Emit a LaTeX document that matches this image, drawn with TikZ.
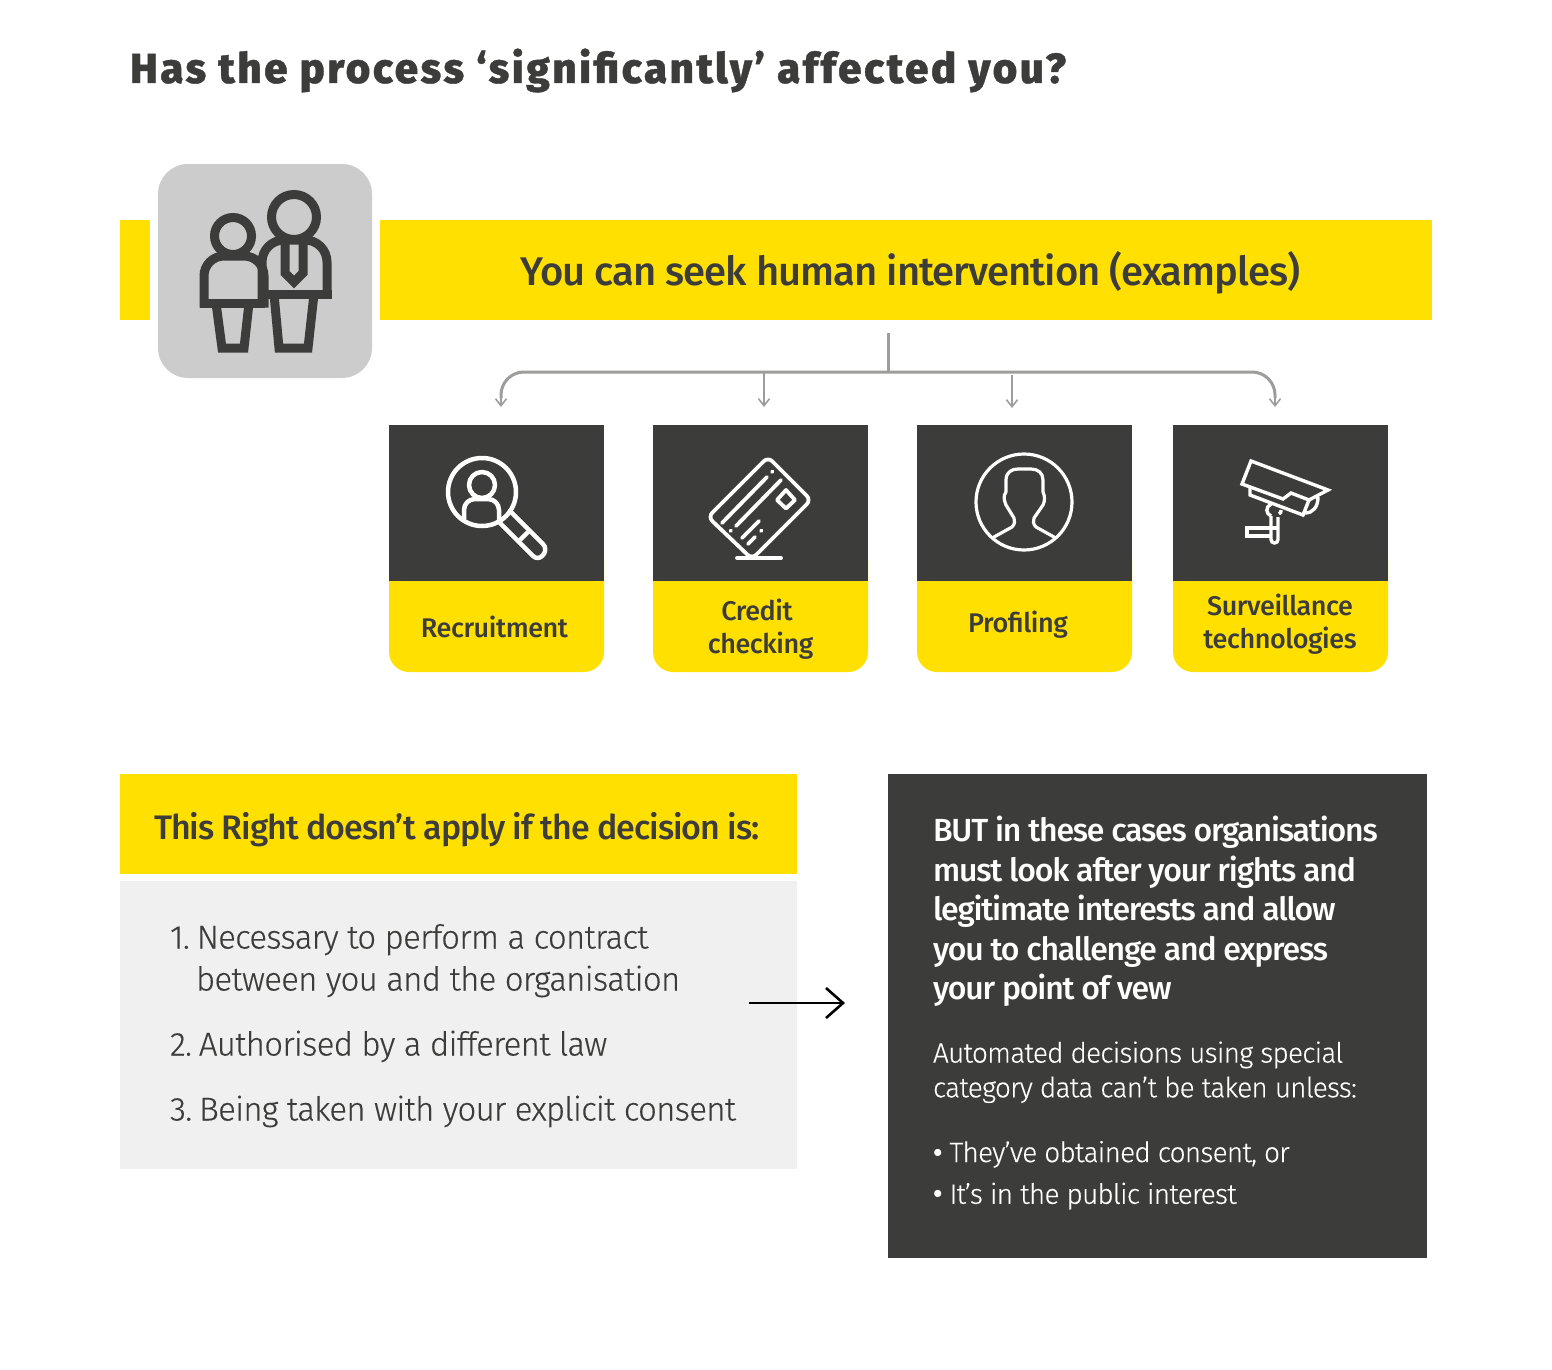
\documentclass[tikz,border=0pt]{standalone}
\usepackage{fontspec}
\setmainfont{Fira Sans}
\newfontfamily\fsmed[LetterSpace=-2.4]{Fira Sans Medium}
\newfontfamily\fscard[LetterSpace=-1.6]{Fira Sans Medium}
\newfontfamily\fscond[LetterSpace=-3.0]{Fira Sans Medium}
\newfontfamily\fsbut[LetterSpace=-3.7]{Fira Sans Medium}
\newfontfamily\fsheavy[LetterSpace=6.2,FakeBold=0.9]{Fira Sans ExtraBold}
\newfontfamily\fsbody[LetterSpace=-2.2,FakeBold=0.25]{Fira Sans Light}
\newfontfamily\fsnote[LetterSpace=-2.8,FakeBold=0.25]{Fira Sans Light}
\usetikzlibrary{arrows.meta}
\definecolor{ink}{HTML}{3C3C3B}
\definecolor{sun}{HTML}{FFE000}
\definecolor{tile}{HTML}{CCCCCC}
\definecolor{pale}{HTML}{F0F0F0}
\definecolor{wire}{HTML}{9D9D9C}
\tikzset{
 x=1pt,y=-1pt,
 txt/.style={inner sep=0pt,outer sep=0pt,anchor=north west,align=left,text=ink},
 one/.style={inner sep=0pt,outer sep=0pt,anchor=base west,text=ink},
 ctr/.style={inner sep=0pt,outer sep=0pt,anchor=north,align=center,text=ink},
 onectr/.style={inner sep=0pt,outer sep=0pt,anchor=base,text=ink},
 band/.style={fill=sun,draw=none},
 dark/.style={fill=ink,draw=none},
 person/.style={draw=ink,line width=9pt,miter limit=10},
 glyph/.style={draw=white,line width=4.5pt,line cap=round,line join=round},
 cardglyph/.style={draw=white,line width=3.8pt,line cap=round,line join=round},
 thin glyph/.style={draw=white,line width=3.2pt,line cap=round,line join=round},
 cam/.style={draw=white,line width=3.4pt,line cap=butt,line join=miter},
 trunk/.style={draw=wire,line width=3pt},
 feeder/.style={draw=wire,line width=2pt,-{Straight Barb[length=7pt,width=11pt,line width=1.6pt]}},
 cardfont/.style={font=\fscard\fontsize{27}{33.5}\selectfont},
 bodyfont/.style={font=\fsbody\fontsize{33}{42}\selectfont},
}
\begin{document}
\begin{tikzpicture}
\useasboundingbox (0,0) rectangle (1552,1370);
\fill[white] (0,0) rectangle (1552,1370);
% title
\node[one,font=\fsheavy\fontsize{42}{50}\selectfont] (title) at (130,83) {Has the process ‘significantly’ affected you?};
% banner
\path[band] (120,220) rectangle (150,320);
\path[band] (380,220) rectangle (1432,320);
\node[onectr,font=\fsmed\fontsize{40}{50}\selectfont] (banner) at (910.5,285) {You can seek human intervention (examples)};
% people tile
\fill[tile,rounded corners=30pt] (158,164) rectangle (372,378);
\draw[person] (233,236) circle[radius=18.5];
\draw[person] (294,217) circle[radius=22.5];
\draw[person,rounded corners=20pt] (204,307.5) -- (204,256) -- (264,256) -- (264,307.5);
\draw[person] (199.5,303) -- (265,303);
\draw[person] (216,303) -- (222,348) -- (244,348) -- (249,303);
\draw[person,rounded corners=22pt] (262,303) -- (262,240) -- (327,240) -- (327,298.5);
\draw[person] (262,294) -- (331.5,294);
\draw[person] (274,294) -- (279,348) -- (308,348) -- (314,294);
\draw[ink,line width=9pt] (285,240) -- (285,273) -- (294,282) -- (303,273) -- (303,240);
% connectors
\coordinate (stem) at (888,333);
\coordinate (hub) at (888,372);
\coordinate (a1) at (501,407);
\coordinate (a2) at (764,407);
\coordinate (a3) at (1012,408);
\coordinate (a4) at (1275,407);
\draw[trunk] (stem) -- (hub);
\draw[trunk,rounded corners=23pt] (hub) -- (501,372) -- (501,398);
\draw[trunk,rounded corners=23pt] (hub) -- (1275,372) -- (1275,398);
\draw[feeder] (501,392) -- (a1);
\draw[feeder] (1275,392) -- (a4);
\draw[feeder] (764,373) -- (a2);
\draw[feeder] (1012,375) -- (a3);
% cards
\foreach \cx in {389,653,917,1173}{
 \path[band,rounded corners=20pt] (\cx,540) rectangle (\cx+215,672);
 \path[dark] (\cx,425) rectangle (\cx+215,581);
}
\node[onectr,cardfont] (recruit) at (494.5,637) {Recruitment};
\node[ctr,cardfont] (credit) at (760.5,598.5) {Credit\hspace*{7pt}\\checking};
\node[onectr,cardfont] (profile) at (1018,632) {Profiling};
\node[ctr,cardfont] (surv) at (1280,593.5) {Surveillance\\technologies};
% magnifier
\draw[glyph] (482,492) circle[radius=34];
\draw[glyph] (482,485) circle[radius=13];
\draw[glyph,rounded corners=11pt] (464,519) -- (464,499) -- (499,499) -- (499,519);
\draw[glyph,rounded corners=7pt] (510,511) -- (548,549) -- (538,561) -- (500,523);
\draw[glyph] (528,532) -- (520,540);
% credit card
\draw[cardglyph,rounded corners=6pt] (768,457) -- (811,500) -- (752,559) -- (708,517) -- cycle;
\draw[cardglyph] (722,523) -- (767,477);
\draw[cardglyph] (736,526) -- (781,480);
\draw[cardglyph] (772,472) -- (772.5,471.5);
\draw[cardglyph] (730.5,531) -- (731,530.5);
\draw[cardglyph] (742,538) -- (759,521);
\draw[cardglyph] (748,544) -- (755,537);
\draw[cardglyph] (761,531) -- (761.5,530.5);
\draw[cardglyph] (786,490) -- (795,500) -- (786,508.5) -- (777,500) -- cycle;
\draw[cardglyph] (737,558) -- (781,558);
% profile
\draw[thin glyph] (1024,502) circle[radius=48];
\draw[thin glyph] (994,537) -- (1012,527) .. controls (1015,524) and (1015,521) .. (1014,518) -- (1006,505) .. controls (1004,500) and (1003,496) .. (1006,492) -- (1006,480) .. controls (1006,472) and (1012,469) .. (1018,469) -- (1031,469) .. controls (1038,469) and (1043,473) .. (1043,480) -- (1043,492) .. controls (1045,496) and (1045,501) .. (1043,505) -- (1034,518) .. controls (1033,521) and (1033,524) .. (1036,527) -- (1054,537);
% camera
\draw[cam] (1251,461) -- (1328,490) -- (1309,500) -- (1291,493) -- (1283,499) -- (1242,484) -- cycle;
\draw[cam] (1250,488) -- (1250,495) -- (1303,515) -- (1309,500);
\draw[cam] (1305,513) .. controls (1313,513) and (1318,507) .. (1318,497);
\draw[cam] (1271,504) .. controls (1265,507) and (1266,514) .. (1271,516);
\draw[cam] (1279,514) .. controls (1281,513) and (1281,512) .. (1281,510);
\draw[cam,rounded corners=3.5pt] (1271,516) -- (1271,543) -- (1278,543) -- (1278,517);
\draw[cam] (1278,528) -- (1247,528) -- (1247,536) -- (1271,536);
% lower left
\path[band] (120,774) rectangle (797,874);
\node[one,font=\fscond\fontsize{34}{42}\selectfont] (cond) at (154,839.5) {This Right doesn’t apply if the decision is:};
\path[fill=pale] (120,881) rectangle (797,1169);
\node[txt,bodyfont] (i1) at (170,924) {1.\kern-1.5pt\ Necessary to perform a contract\\\hspace*{26pt}between you and the organisation};
\node[one,bodyfont] (i2) at (170,1055.5) {2.\kern-1.5pt\ Authorised by a different law};
\node[one,bodyfont] (i3) at (170,1120.5) {3.\kern-1.5pt\ Being taken with your explicit consent};
% lower right
\path[dark] (888,774) rectangle (1427,1258);
\node[txt,text=white,font=\fsbut\fontsize{32}{39.5}\selectfont] (but) at (933,816) {BUT in these cases organisations\\must look after your rights and\\legitimate interests and allow\\you to challenge and express\\your point of vew};
\node[txt,text=white,font=\fsnote\fontsize{28}{34.7}\selectfont] (auto) at (933,1041.5) {Automated decisions using special\\category data can’t be taken unless:};
\node[txt,text=white,font=\fsnote\fontsize{28}{41.7}\selectfont] (bul) at (933,1141) {{\fscard •} They’ve obtained consent, or\\{\fscard •} It’s in the public interest};
% link arrow
\coordinate (l1) at (749,1003);
\coordinate (l2) at (845,1003);
\draw[black,line width=2.4pt,-{Straight Barb[length=17pt,width=30pt,line width=2.6pt]}] (l1) -- (l2);
\end{tikzpicture}
\end{document}
